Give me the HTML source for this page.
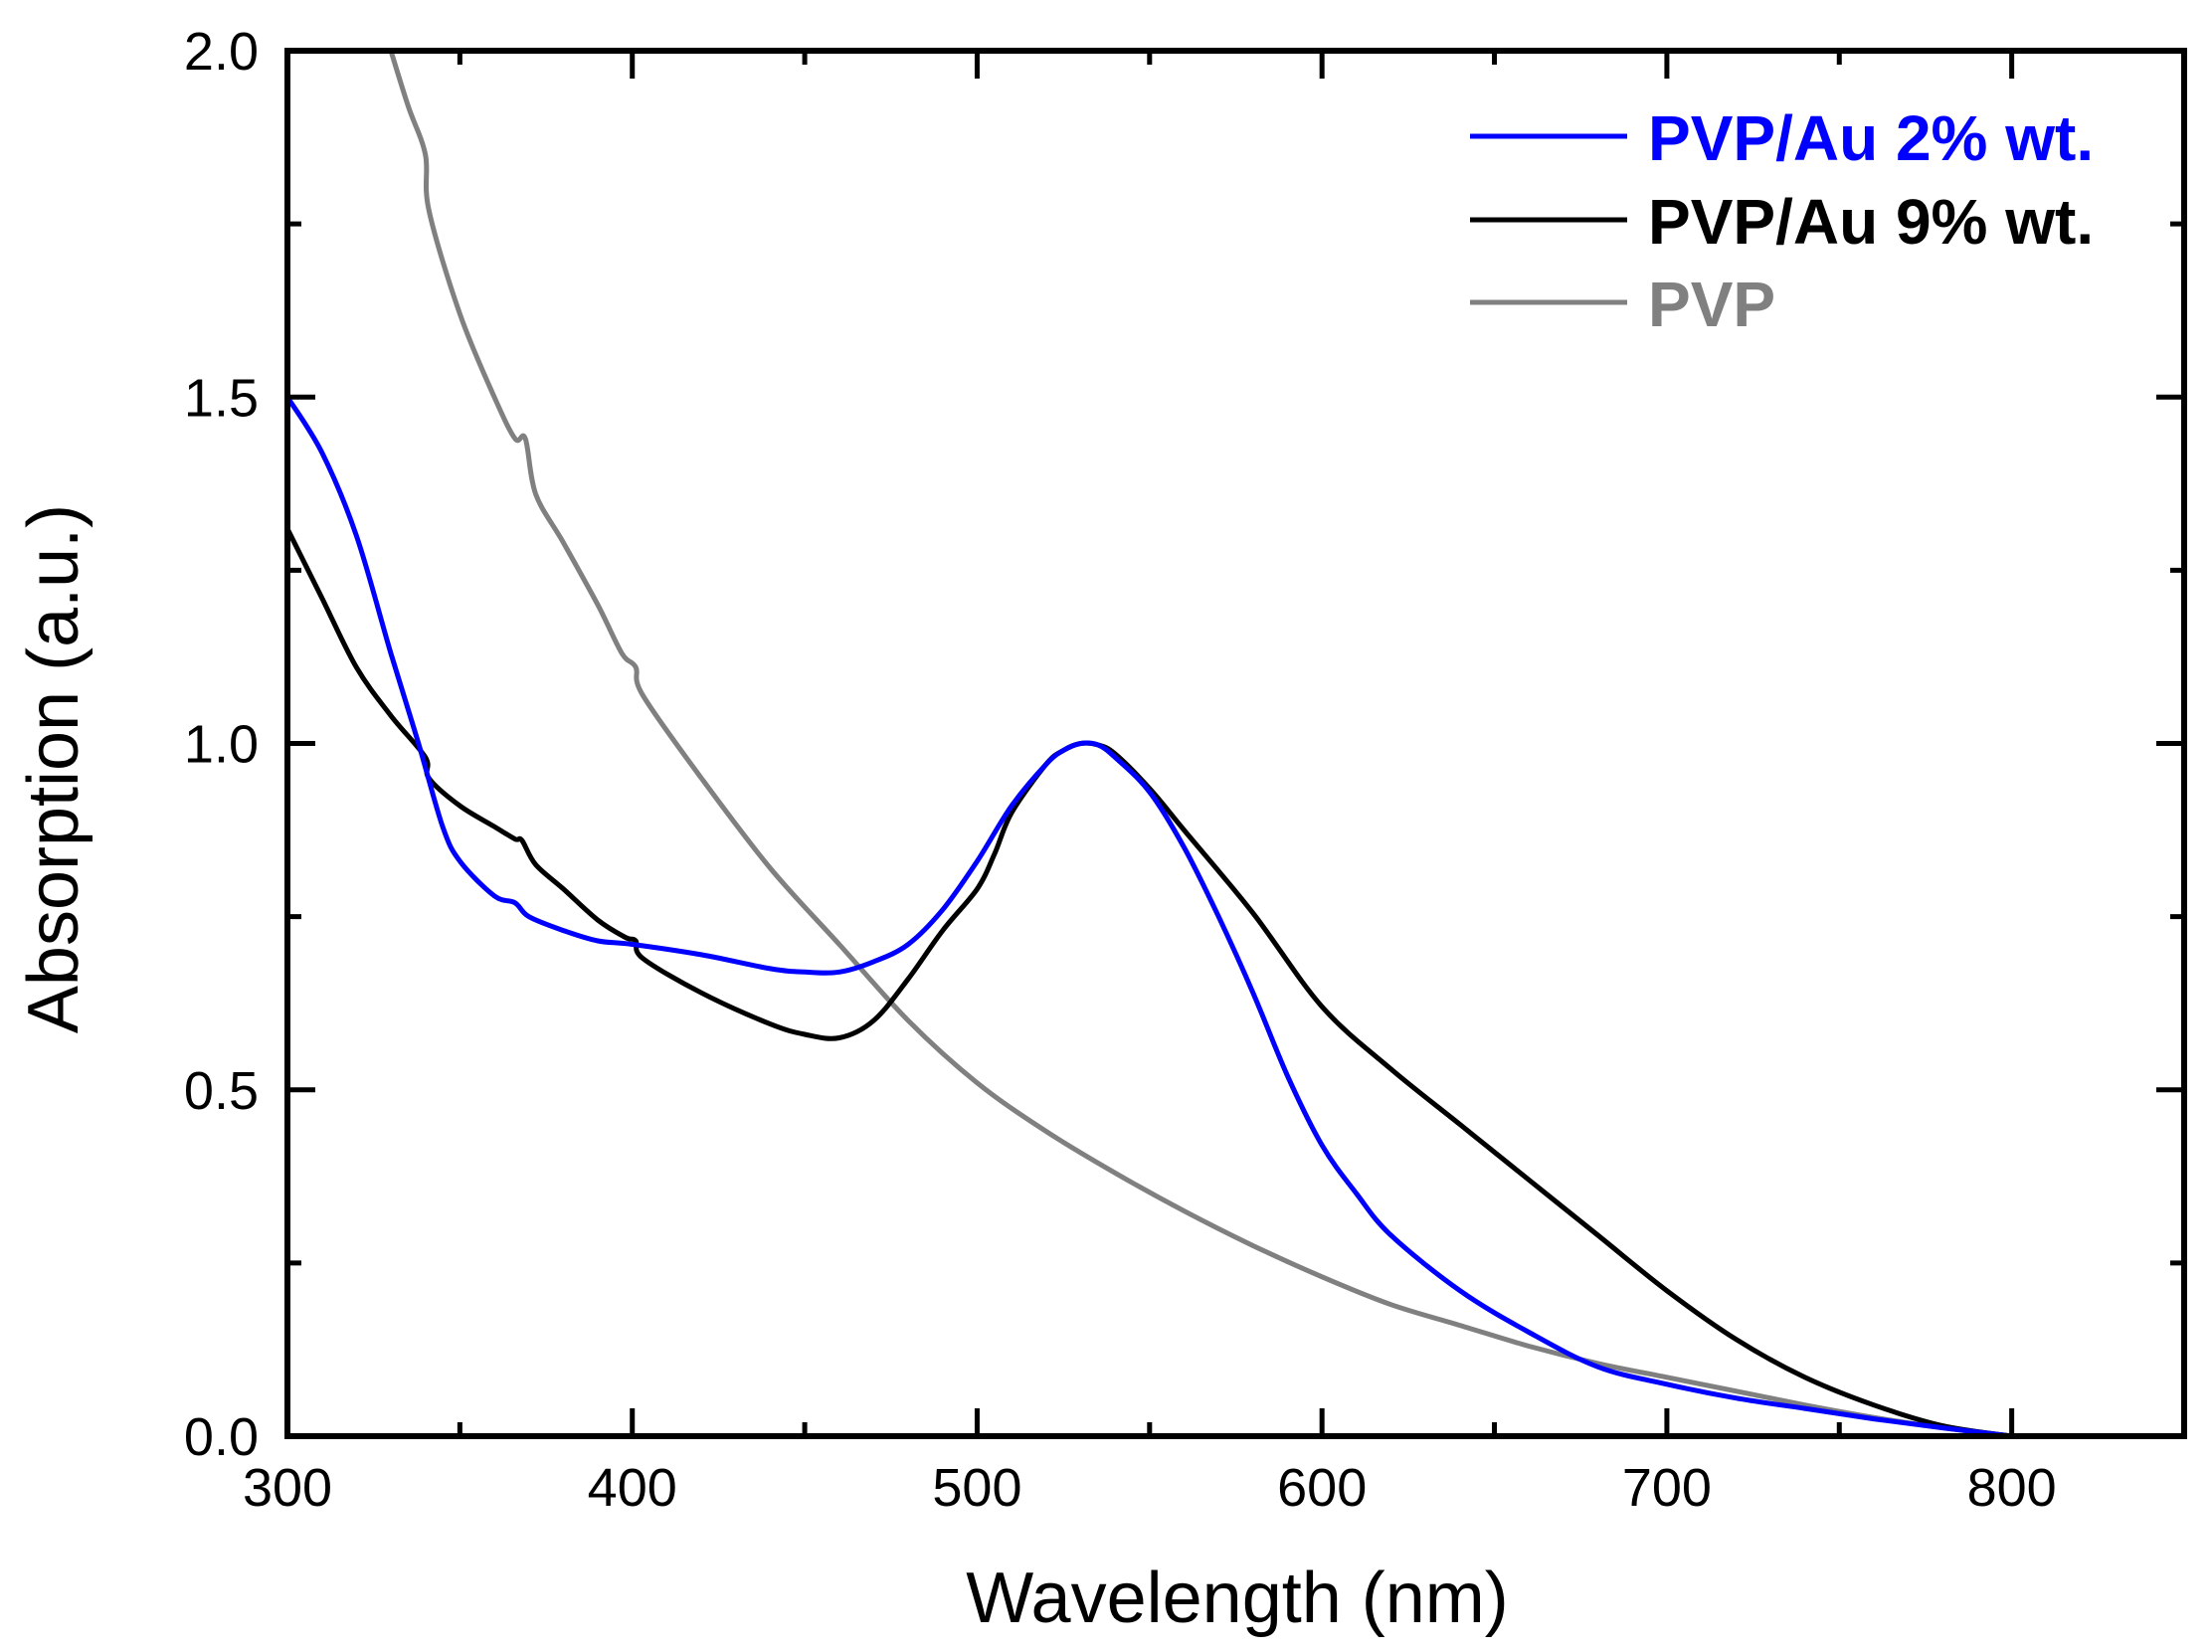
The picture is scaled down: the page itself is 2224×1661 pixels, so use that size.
<!DOCTYPE html>
<html><head><meta charset="utf-8"><style>
html,body{margin:0;padding:0;background:#fff;}
svg{display:block;font-family:"Liberation Sans",Arial,sans-serif;}
</style></head><body>
<svg id="chart" width="2224" height="1661" viewBox="0 0 2224 1661">
<g id="plot"></g>
</svg>
<script>
const blueX=[300,310,320,330,338,345,350,360,366,370,380,390,400,420,440,450,460,470,480,490,500,510,520,525,530,535,540,550,560,570,580,590,600,610,620,640,660,680,700,720,740,760,780,800];
const blueY=[1.5,1.42,1.3,1.13,1.0,0.88,0.83,0.78,0.77,0.75,0.73,0.715,0.71,0.695,0.675,0.67,0.67,0.685,0.71,0.76,0.83,0.91,0.97,0.99,1.0,0.998,0.98,0.93,0.85,0.75,0.64,0.52,0.42,0.35,0.29,0.21,0.15,0.1,0.075,0.055,0.04,0.025,0.012,0];
const blackX=[300,310,320,330,340,341,350,360,366,368,372,380,390,398,401,403,420,440,450,460,470,480,490,500,505,510,520,525,530,535,540,550,560,580,600,620,640,660,680,700,720,740,760,780,800];
const blackY=[1.31,1.21,1.11,1.04,0.98,0.95,0.91,0.88,0.862,0.86,0.825,0.79,0.745,0.72,0.715,0.69,0.64,0.595,0.58,0.575,0.6,0.66,0.73,0.79,0.84,0.9,0.97,0.99,1.0,0.998,0.985,0.935,0.875,0.755,0.62,0.53,0.45,0.37,0.29,0.21,0.14,0.085,0.045,0.015,0];
const grayX=[330,335,340,341,350,360,366,369,372,380,390,397,401,403,420,440,460,480,500,520,540,560,580,600,620,640,660,680,700,720,740,760,780,800];
const grayY=[2.0,1.92,1.85,1.77,1.62,1.5,1.44,1.44,1.36,1.29,1.2,1.13,1.11,1.07,0.95,0.82,0.71,0.6,0.51,0.44,0.38,0.325,0.275,0.23,0.19,0.16,0.13,0.105,0.085,0.065,0.045,0.027,0.012,0];
const xTicks=[300,400,500,600,700,800];
const xMinor=[350,450,550,650,750,850];
const yTicks=["0.0","0.5","1.0","1.5","2.0"];
const yMinor=[0.25,0.75,1.25,1.75];
const seriesNames=["PVP/Au 2% wt.","PVP/Au 9% wt.","PVP"];

const L=289,R=2196,T=51,B=1444;
const xs=v=>L+(v-300)/550*(R-L);
const ys=v=>B-v/2*(B-T);
const ns="http://www.w3.org/2000/svg";
const g=document.getElementById('plot');
function mk(t,a){const e=document.createElementNS(ns,t);for(const k in a)e.setAttribute(k,a[k]);g.appendChild(e);return e;}

function smoothPath(X,Y){
  const P=X.map((x,i)=>[xs(x),ys(Y[i])]);
  let d='M'+P[0][0].toFixed(1)+','+P[0][1].toFixed(1);
  for(let i=0;i<P.length-1;i++){
    const p0=P[Math.max(0,i-1)],p1=P[i],p2=P[i+1],p3=P[Math.min(P.length-1,i+2)];
    const c1=[p1[0]+(p2[0]-p0[0])/6,p1[1]+(p2[1]-p0[1])/6];
    const c2=[p2[0]-(p3[0]-p1[0])/6,p2[1]-(p3[1]-p1[1])/6];
    d+=`C${c1[0].toFixed(1)},${c1[1].toFixed(1)} ${c2[0].toFixed(1)},${c2[1].toFixed(1)} ${p2[0].toFixed(1)},${p2[1].toFixed(1)}`;
  }
  return d;
}
function series(X,Y,c,name){
  const p=mk('path',{d:smoothPath(X,Y),fill:'none',stroke:c,'stroke-width':5,'stroke-linejoin':'round'});
  
  
}
series(grayX,grayY,'#808080','pvp-line');
series(blackX,blackY,'#000','pvp-au-9-line');
series(blueX,blueY,'#0000ff','pvp-au-2-line');

const fr=mk('rect',{x:L,y:T,width:R-L,height:B-T,fill:'none',stroke:'#000','stroke-width':6});



xTicks.forEach(v=>{
  const x=xs(v);
  const t=mk('path',{d:`M${x},${B}V${B-28}M${x},${T}V${T+28}`,stroke:'#000','stroke-width':5});
  
  
  const l=mk('text',{x:x,y:B+70,'font-size':54,'text-anchor':'middle'});
  l.textContent=v;
  
  
});
xMinor.forEach(v=>{
  const x=xs(v);
  const t=mk('path',{d:`M${x},${B}V${B-14}M${x},${T}V${T+14}`,stroke:'#000','stroke-width':5});
  
  
});
yTicks.forEach(s=>{
  const y=ys(parseFloat(s));
  const t=mk('path',{d:`M${L},${y}H${L+28}M${R},${y}H${R-28}`,stroke:'#000','stroke-width':5});
  
  
  const l=mk('text',{x:260,y:y+19,'font-size':54,'text-anchor':'end'});
  l.textContent=s;
  
  
});
yMinor.forEach(v=>{
  const y=ys(v);
  const t=mk('path',{d:`M${L},${y}H${L+14}M${R},${y}H${R-14}`,stroke:'#000','stroke-width':5});
  
  
});
const xt=mk('text',{x:1244,y:1631,'font-size':72,'text-anchor':'middle'});
xt.textContent='Wavelength (nm)';


const yt=mk('text',{x:0,y:0,'font-size':72,'text-anchor':'middle',transform:'translate(78,773) rotate(-90)'});
yt.textContent='Absorption (a.u.)';



const cols=['#0000ff','#000','#808080'];
const rows=[137,221,304];
seriesNames.forEach((n,i)=>{
  const ln=mk('line',{x1:1478,x2:1636,y1:rows[i],y2:rows[i],stroke:cols[i],'stroke-width':5});
  
  
  const t=mk('text',{x:1657,y:rows[i]+24,'font-size':64,'font-weight':'bold',fill:cols[i]});
  t.textContent=n;
  
  
});
</script>
</body></html>
